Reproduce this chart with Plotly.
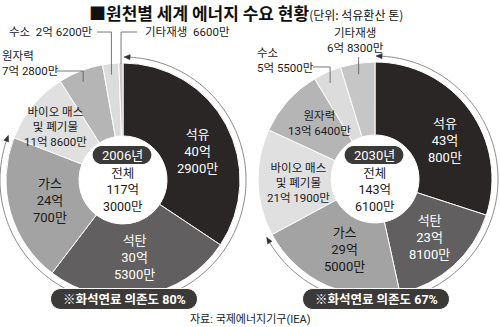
import numpy as np
import plotly.graph_objects as go

# ---------------- data ----------------
categories = ["석유", "석탄", "가스", "바이오 매스 및 폐기물", "원자력", "수소", "기타재생"]
display_names = ["석유", "석탄", "가스", "바이오 매스<br>및 폐기물", "원자력", "수소", "기타재생"]
years = ["2006년", "2030년"]
values_2006 = [40.29, 30.53, 24.07, 11.86, 7.28, 2.62, 0.66]   # 억 톤 (석유환산)
values_2030 = [43.08, 23.81, 29.50, 21.19, 13.64, 5.55, 6.83]
value_text_2006 = ["40억<br>2900만", "30억<br>5300만", "24억<br>700만", "11억 8600만",
                   "7억 2800만", "2억 6200만", "6600만"]
value_text_2030 = ["43억<br>800만", "23억<br>8100만", "29억<br>5000만", "21억 1900만",
                   "13억 6400만", "5억 5500만", "6억 8300만"]
totals_text = ["117억<br>3000만", "143억<br>6100만"]
fossil_text = ["80%", "67%"]
fossil_count = 3  # 석유, 석탄, 가스

title_main = "■원천별 세계 에너지 수요 현황"
title_unit = "(단위: 석유환산 톤)"
source_text = "자료: 국제에너지기구(IEA)"

# ---------------- style / layout ----------------
W, H = 500, 327
FONT = "Roboto, Noto Sans CJK KR, sans-serif"
TFONT = "Noto Sans CJK KR, Roboto, sans-serif"
colors = ["#2a2626", "#615f5f", "#a3a3a3", "#e0e0e0", "#b5b5b5", "#dcdcdc", "#c6c6c6"]
text_colors = ["white", "white", "#1a1a1a", "#1a1a1a", "#1a1a1a", "#1a1a1a", "#1a1a1a"]
PILL = "#3c3939"
R = 117
HOLE_R = 44
pies = [
    dict(cx=123, cy=180, values=values_2006, vtext=value_text_2006,
         inside={0: (80, 7, 13), 1: (78, 1, 13), 2: (76, 0, 13), 3: (86, -1, 11.5)},
         outside={
             4: dict(text="원자력<br>7억 2800만", x=0, y=64, xanchor="left", align="left",
                     line_from=(57, 71), r_end=106),
             5: dict(text="수소  2억 6200만", x=95, y=32, xanchor="right", align="right",
                     line_from=(97, 32), r_end=106),
             6: dict(text="기타재생  6600만", x=143, y=32, xanchor="left", align="left",
                     line_from=(137, 32), r_end=116),
         }),
    dict(cx=375, cy=179, values=values_2030, vtext=value_text_2030,
         inside={0: (80, 7, 13), 1: (80, -1, 13), 2: (77, -1, 13), 3: (77, -1, 11.5),
                 4: (79, 3, 11.5)},
         outside={
             5: dict(text="수소<br>5억 5500만", x=255, y=60, xanchor="left", align="left",
                     line_from=(313, 67), r_end=106),
             6: dict(text="기타재생<br>6억 8300만", x=355, y=41, xanchor="center", align="center",
                     line_from=None, y_start=57, r_end=106),
         }),
]


def px(x, y):
    return x / W, 1 - y / H


def path_from(points, close=False):
    s = ""
    for i, (x, y) in enumerate(points):
        X, Y = px(x, y)
        s += ("M" if i == 0 else " L") + f"{X:.5f},{Y:.5f}"
    return s + (" Z" if close else "")


def rrect(cx, cy, w, h, r):
    x0, x1, y0, y1 = cx - w / 2, cx + w / 2, cy - h / 2, cy + h / 2
    pts = []
    def arc(ccx, ccy, a0, a1):
        for a in np.linspace(a0, a1, 8):
            pts.append((ccx + r * np.cos(a), ccy + r * np.sin(a)))
    arc(x1 - r, y0 + r, -np.pi / 2, 0)
    arc(x1 - r, y1 - r, 0, np.pi / 2)
    arc(x0 + r, y1 - r, np.pi / 2, np.pi)
    arc(x0 + r, y0 + r, np.pi, 1.5 * np.pi)
    return path_from(pts, close=True)


def polar(cx, cy, r, deg):
    t = np.radians(deg)
    return cx + r * np.sin(t), cy - r * np.cos(t)


fig = go.Figure()
shapes = []
annotations = []

for k, p in enumerate(pies):
    cx, cy, vals = p["cx"], p["cy"], p["values"]
    fig.add_trace(go.Pie(
        values=vals, labels=categories, sort=False, direction="clockwise", rotation=0,
        hole=HOLE_R / R, textinfo="none", hoverinfo="skip", showlegend=False,
        marker=dict(colors=colors, line=dict(color="white", width=1)),
        domain=dict(x=[(cx - R) / W, (cx + R) / W], y=[1 - (cy + R) / H, 1 - (cy - R) / H]),
    ))
    total = sum(vals)
    cum = np.concatenate([[0], np.cumsum(vals)]) / total * 360
    mids = (cum[:-1] + cum[1:]) / 2

    # inside labels
    for i, (rl, dth, fs) in p["inside"].items():
        x, y = polar(cx, cy, rl, mids[i] + dth)
        X, Y = px(x, y)
        annotations.append(dict(x=X, y=Y, xref="paper", yref="paper", showarrow=False,
                                text=f"{display_names[i]}<br>{p['vtext'][i]}",
                                font=dict(family=FONT, size=fs, color=text_colors[i]),
                                xanchor="center", yanchor="middle", align="center"))
    # outside labels with leader lines
    for i, o in p["outside"].items():
        X, Y = px(o["x"], o["y"])
        annotations.append(dict(x=X, y=Y, xref="paper", yref="paper", showarrow=False,
                                text=o["text"], font=dict(family=FONT, size=11.5, color="#1a1a1a"),
                                xanchor=o["xanchor"], yanchor="middle", align=o["align"]))
        lx, _ = polar(cx, cy, 110, mids[i])
        ey = cy - np.sqrt(o["r_end"] ** 2 - (lx - cx) ** 2)
        if o["line_from"] is not None:
            fx, fy = o["line_from"]
            pts = [(fx, fy), (lx, fy), (lx, ey)]
        else:
            pts = [(lx, o["y_start"]), (lx, ey)]
        shapes.append(dict(type="path", xref="paper", yref="paper", path=path_from(pts),
                           line=dict(color="#555", width=0.8), layer="above"))

    # fossil-fuel arc with arrowheads
    RA = R + 6
    end_deg = cum[fossil_count]
    th = np.linspace(0.5, end_deg, 200)
    arc_pts = [polar(cx, cy, RA, t) for t in th]
    shapes.append(dict(type="path", xref="paper", yref="paper", path=path_from(arc_pts),
                       line=dict(color="#8a8a8a", width=1), layer="above"))
    d = np.degrees(6 / RA)
    for tip, base in [(0.5, 0.5 + d), (end_deg, end_deg - d)]:
        tp = polar(cx, cy, RA, tip)
        b1 = polar(cx, cy, RA - 2.6, base)
        b2 = polar(cx, cy, RA + 2.6, base)
        shapes.append(dict(type="path", xref="paper", yref="paper",
                           path=path_from([tp, b1, b2], close=True),
                           fillcolor="#333", line=dict(color="#333", width=0.5), layer="above"))

    # year pill and total
    shapes.append(dict(type="path", xref="paper", yref="paper", path=rrect(cx - 1, 155, 60, 19, 9.5),
                       fillcolor=PILL, line=dict(color="white", width=1.2), layer="above"))
    X, Y = px(cx - 1, 155.5)
    annotations.append(dict(x=X, y=Y, xref="paper", yref="paper", showarrow=False, text=years[k],
                            font=dict(family=FONT, size=13, color="white"),
                            xanchor="center", yanchor="middle"))
    X, Y = px(cx, 190)
    annotations.append(dict(x=X, y=Y, xref="paper", yref="paper", showarrow=False,
                            text="전체<br>" + totals_text[k],
                            font=dict(family=FONT, size=12.5, color="#1a1a1a"),
                            xanchor="center", yanchor="middle", align="center"))
    # fossil dependency pill
    shapes.append(dict(type="path", xref="paper", yref="paper", path=rrect(cx + 1, 299, 147, 21, 10.5),
                       fillcolor=PILL, line=dict(color="white", width=1), layer="above"))
    X, Y = px(cx + 1, 299.5)
    annotations.append(dict(x=X, y=Y, xref="paper", yref="paper", showarrow=False,
                            text="<b>※화석연료 의존도 " + fossil_text[k] + "</b>",
                            font=dict(family=FONT, size=12.5, color="white"),
                            xanchor="center", yanchor="middle"))

# title & source
X, Y = px(87, 12)
annotations.append(dict(x=X, y=Y, xref="paper", yref="paper", showarrow=False,
                        text=f"<b>{title_main}</b><span style='font-size:12px'>{title_unit}</span>",
                        font=dict(family=TFONT, size=17, color="#111"),
                        xanchor="left", yanchor="middle"))
X, Y = px(250, 319)
annotations.append(dict(x=X, y=Y, xref="paper", yref="paper", showarrow=False, text=source_text,
                        font=dict(family=FONT, size=11, color="#222"),
                        xanchor="center", yanchor="middle"))

fig.update_layout(width=W, height=H, margin=dict(l=0, r=0, t=0, b=0),
                  paper_bgcolor="white", plot_bgcolor="white",
                  shapes=shapes, annotations=annotations, showlegend=False)
fig.write_html("out.html", config={"displayModeBar": False})
